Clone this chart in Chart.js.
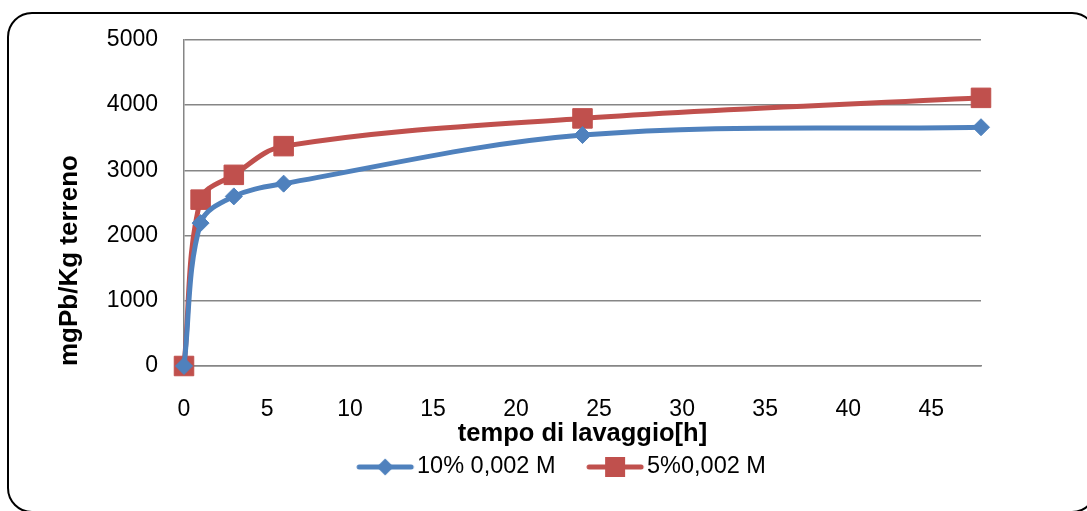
<!DOCTYPE html>
<html>
<head>
<meta charset="utf-8">
<script src="https://cdn.jsdelivr.net/npm/chart.js@4/dist/chart.umd.min.js"></script>
<style>
  html, body { margin: 0; padding: 0; background: #fff; overflow: hidden; }
  #wrap { position: relative; width: 1087px; height: 511px; }
  #c { position: absolute; left: 0; top: 0; }
  .frame {
    position: absolute; left: 7px; top: 12px; width: 1090px; height: 501px;
    border: 2.5px solid #000; border-radius: 25px; box-sizing: border-box;
    pointer-events: none;
  }
</style>
</head>
<body>
<div id="wrap">
  <canvas id="c" width="1087" height="511"></canvas>
  <div class="frame"></div>
</div>
<script>
// Washing time (hours) and extracted lead (mg Pb per kg of soil)
const hours = [0, 1, 3, 6, 24, 48];
const series10 = [0, 2190, 2600, 2795, 3540, 3660];
const series5 = [0, 2550, 2930, 3370, 3795, 4110];
const seriesNames = ['10% 0,002 M', '5%0,002 M'];
const xTicks = [0, 5, 10, 15, 20, 25, 30, 35, 40, 45];
const yTicks = [0, 1000, 2000, 3000, 4000, 5000];

const BLUE = '#4F81BD';
const RED = '#C0504D';
const FONT = "'Liberation Sans', Arial, sans-serif";

const toPoints = (ys) => hours.map((h, i) => ({ x: h, y: ys[i] }));

// Legend swatch: line with the series marker in the middle
function swatch(color, shape) {
  const c = document.createElement('canvas');
  c.width = 140; c.height = 26;
  const g = c.getContext('2d');
  g.strokeStyle = color; g.lineWidth = 5; g.lineCap = 'round';
  g.beginPath(); g.moveTo(61, 13); g.lineTo(113, 13); g.stroke();
  g.fillStyle = color;
  const cx = 87, cy = 13;
  if (shape === 'diamond') {
    g.beginPath(); g.moveTo(cx, cy - 8.5); g.lineTo(cx + 8.5, cy); g.lineTo(cx, cy + 8.5); g.lineTo(cx - 8.5, cy); g.closePath(); g.fill();
  } else {
    g.fillRect(cx - 10, cy - 10, 20, 20);
  }
  return c;
}
const swatches = [swatch(BLUE, 'diamond'), swatch(RED, 'square')];

const PAD_LEFT = 105;

new Chart(document.getElementById('c'), {
  type: 'line',
  data: {
    datasets: [
      {
        label: seriesNames[0], data: toPoints(series10),
        borderColor: BLUE, backgroundColor: BLUE, borderWidth: 5,
        pointStyle: 'rectRot', pointRadius: 8.5, pointBorderWidth: 1,
        pointBackgroundColor: BLUE, pointBorderColor: BLUE,
        tension: 0.35, clip: false
      },
      {
        label: seriesNames[1], data: toPoints(series5),
        borderColor: RED, backgroundColor: RED, borderWidth: 5,
        pointStyle: 'rect', pointRadius: 13.8, pointBorderWidth: 1,
        pointBackgroundColor: RED, pointBorderColor: RED,
        tension: 0.35, clip: false
      }
    ]
  },
  options: {
    responsive: false,
    animation: false,
    devicePixelRatio: 1,
    events: [],
    layout: { padding: { left: PAD_LEFT, right: 95.1, top: 37, bottom: 22.25 } },
    scales: {
      x: {
        type: 'linear', min: 0, max: 48,
        afterBuildTicks: (s) => { s.ticks = xTicks.map(v => ({ value: v })); },
        afterFit: (s) => { s.height = 83.75; },
        grid: { display: false, drawTicks: false },
        border: { display: true, color: '#868686', width: 1.5 },
        ticks: { color: '#000', font: { family: FONT, size: 23 }, padding: 30, maxRotation: 0, autoSkip: false },
        title: {
          display: true, text: 'tempo di lavaggio[h]', color: '#000',
          font: { family: FONT, size: 25.5, weight: 'bold' }, padding: { top: 0, bottom: 0 }
        }
      },
      y: {
        min: 0, max: 5000,
        afterBuildTicks: (s) => { s.ticks = yTicks.map(v => ({ value: v })); },
        afterFit: (s) => { s.width = 184 - PAD_LEFT; },
        grid: { color: '#868686', lineWidth: 1.5, drawTicks: false },
        border: { display: true, color: '#868686', width: 1.5 },
        ticks: { color: '#000', font: { family: FONT, size: 23 }, padding: 26, callback: (v) => String(v) },
        title: {
          display: true, text: 'mgPb/Kg terreno', color: '#000', align: 'start',
          font: { family: FONT, size: 26, weight: 'bold' }, padding: { top: 70 - PAD_LEFT - 15.6, bottom: 0 }
        }
      },
      // empty right-hand margin of the plot
      yRight: {
        position: 'right', min: 0, max: 5000,
        afterFit: (s) => { s.width = 10.9; },
        grid: { display: false, drawTicks: false },
        border: { display: false },
        ticks: { display: false }
      }
    },
    plugins: {
      tooltip: { enabled: false },
      legend: {
        position: 'bottom',
        labels: {
          color: '#000',
          font: { family: FONT, size: 23.5 },
          usePointStyle: true,
          pointStyleWidth: 74.25,
          padding: 5.5,
          generateLabels: (chart) => Chart.defaults.plugins.legend.labels.generateLabels(chart)
            .map((item, i) => Object.assign(item, { pointStyle: swatches[i] }))
        }
      }
    }
  }
});
</script>
</body>
</html>
